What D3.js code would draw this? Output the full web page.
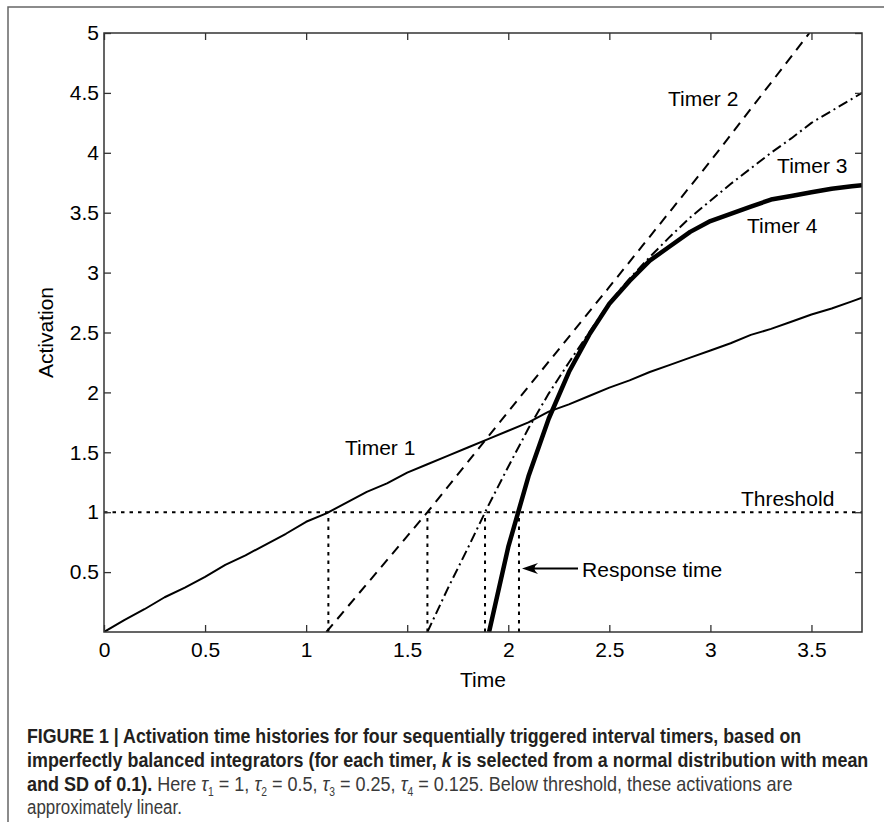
<!DOCTYPE html>
<html><head><meta charset="utf-8">
<script src="https://cdn.jsdelivr.net/npm/d3@7"></script>
<style>body{margin:0;background:#fff}svg{display:block}</style>
</head><body>
<svg id="c" width="884" height="831"></svg>
<script>
// ---- data ----
const timer1T = [0,0.1,0.2,0.3,0.4,0.5,0.6,0.7,0.8,0.9,1.0,1.1,1.2,1.3,1.4,1.5,1.6,1.7,1.8,1.9,2.0,2.1,2.2,2.3,2.4,2.5,2.6,2.7,2.8,2.9,3.0,3.1,3.2,3.3,3.4,3.5,3.6,3.7,3.75];
const timer1V = [0,0.10,0.19,0.29,0.37,0.46,0.56,0.64,0.73,0.82,0.92,0.99,1.08,1.17,1.24,1.33,1.40,1.47,1.54,1.61,1.68,1.75,1.84,1.90,1.97,2.04,2.10,2.17,2.23,2.29,2.35,2.41,2.48,2.53,2.59,2.65,2.70,2.76,2.79];
const timer2T = [1.10,1.60,2.0,2.5,3.0,3.49];
const timer2V = [0,1.0,1.84,2.88,3.93,5.0];
const timer3T = [1.6,1.7,1.8,1.9,2.0,2.1,2.2,2.3,2.4,2.5,2.6,2.7,2.8,2.9,3.0,3.1,3.2,3.3,3.4,3.5,3.6,3.7,3.75];
const timer3V = [0,0.36,0.70,1.05,1.38,1.70,1.99,2.25,2.50,2.75,2.95,3.13,3.30,3.46,3.60,3.74,3.87,4.00,4.12,4.25,4.35,4.45,4.50];
const timer4T = [1.905,2.0,2.1,2.2,2.3,2.4,2.5,2.6,2.7,2.8,2.9,3.0,3.1,3.2,3.3,3.4,3.5,3.6,3.7,3.75];
const timer4V = [0,0.71,1.30,1.78,2.17,2.48,2.74,2.93,3.10,3.22,3.34,3.43,3.49,3.55,3.61,3.64,3.67,3.70,3.72,3.73];
const threshold = 1;
const responseTimes = [1.11,1.60,1.885,2.053];
const xTicks = [0,0.5,1,1.5,2,2.5,3,3.5];
const yTicks = [0.5,1,1.5,2,2.5,3,3.5,4,4.5,5];
const labels = [
  {text:"Timer 1", t:1.192, v:1.477},
  {text:"Timer 2", t:2.790, v:4.391},
  {text:"Timer 3", t:3.330, v:3.831},
  {text:"Timer 4", t:3.181, v:3.331},
  {text:"Threshold", t:3.151, v:1.052},
  {text:"Response time", t:2.365, v:0.459}
];
const arrow = {tipT:2.068, tailT:2.345, v:0.53};

// ---- layout ----
const FONT = "'Liberation Sans', Arial, Helvetica, sans-serif";
const svg = d3.select("#c");
const x = d3.scaleLinear([0,3.75],[104,862]);
const y = d3.scaleLinear([0,5],[632,33]);

// outer frame
svg.append("path").attr("d","M8,822 L8,7 L884,7").attr("fill","none").attr("stroke","#666").attr("stroke-width",1.5);

svg.append("defs").append("clipPath").attr("id","clip").append("rect")
  .attr("x",x(0)).attr("y",y(5)).attr("width",x(3.75)-x(0)).attr("height",y(0)-y(5));

const plot = svg.append("g").attr("clip-path","url(#clip)");
const line = d3.line().x(d=>x(d[0])).y(d=>y(d[1]));
const zip = (a,b)=>a.map((t,i)=>[t,b[i]]);

// threshold & response time verticals
plot.append("path").attr("d",line([[0,threshold],[3.75,threshold]]))
  .attr("fill","none").attr("stroke","#000").attr("stroke-width",2).attr("stroke-dasharray","3.5,5");
responseTimes.forEach(rt=>{
  plot.append("path").attr("d",line([[rt,0],[rt,threshold]]))
    .attr("fill","none").attr("stroke","#000").attr("stroke-width",2).attr("stroke-dasharray","3.5,5");
});

const styles = [
  {T:timer1T,V:timer1V,w:2,dash:null},
  {T:timer2T,V:timer2V,w:2,dash:"10,7"},
  {T:timer3T,V:timer3V,w:2,dash:"10,4,2,4"},
  {T:timer4T,V:timer4V,w:4.5,dash:null}
];
styles.forEach(s=>{
  const p = plot.append("path").attr("d",line(zip(s.T,s.V)))
    .attr("fill","none").attr("stroke","#000").attr("stroke-width",s.w)
    .attr("stroke-linejoin","round");
  if(s.dash) p.attr("stroke-dasharray",s.dash);
});

// axes
const axG = svg.append("g").attr("font-family",FONT);
function styleAxis(g,showText){
  g.select(".domain").remove();
  g.selectAll(".tick line").attr("stroke","#333").attr("stroke-width",1.3);
  g.selectAll("text").attr("font-family",FONT).attr("font-size",21).attr("fill","#000");
  if(!showText) g.selectAll("text").remove();
}
axG.append("g").attr("transform",`translate(0,${y(0)})`)
  .call(d3.axisBottom(x).tickValues(xTicks).tickFormat(d3.format("")).tickSize(-7).tickPadding(10))
  .call(g=>styleAxis(g,true));
axG.append("g").attr("transform",`translate(0,${y(5)})`)
  .call(d3.axisTop(x).tickValues(xTicks).tickSize(-7))
  .call(g=>styleAxis(g,false));
axG.append("g").attr("transform",`translate(${x(0)},0)`)
  .call(d3.axisLeft(y).tickValues(yTicks).tickFormat(d3.format("")).tickSize(-7).tickPadding(5))
  .call(g=>styleAxis(g,true));
axG.append("g").attr("transform",`translate(${x(3.75)},0)`)
  .call(d3.axisRight(y).tickValues(yTicks).tickSize(-7))
  .call(g=>styleAxis(g,false));
svg.selectAll(".tick text").attr("font-size",21);
// box
svg.append("rect").attr("x",x(0)).attr("y",y(5)).attr("width",x(3.75)-x(0)).attr("height",y(0)-y(5))
  .attr("fill","none").attr("stroke","#333").attr("stroke-width",1.5);

// axis titles
svg.append("text").attr("x",(x(0)+x(3.75))/2).attr("y",687).attr("text-anchor","middle")
  .attr("font-family",FONT).attr("font-size",21).text("Time");
svg.append("text").attr("transform",`translate(53,${(y(0)+y(5))/2}) rotate(-90)`).attr("text-anchor","middle")
  .attr("font-family",FONT).attr("font-size",21).text("Activation");

// annotations
labels.forEach(l=>{
  svg.append("text").attr("x",x(l.t)).attr("y",y(l.v)).attr("font-family",FONT).attr("font-size",21)
    .attr("fill","#000").text(l.text);
});
const ax0 = x(arrow.tipT), ax1 = x(arrow.tailT), ay = y(arrow.v);
svg.append("line").attr("x1",ax0+6).attr("x2",ax1).attr("y1",ay).attr("y2",ay).attr("stroke","#000").attr("stroke-width",2);
svg.append("path").attr("d",`M${ax0},${ay} L${ax0+16},${ay-5.5} Q${ax0+9},${ay} ${ax0+16},${ay+5.5} Z`).attr("fill","#000");

// caption
const capX = 27;
const capLines = [
  {base:743, w:775, parts:[{t:"FIGURE 1 | Activation time histories for four sequentially triggered interval timers, based on", b:1}]},
  {base:767, w:842, parts:[{t:"imperfectly balanced integrators (for each timer, ",b:1},{t:"k",b:1,i:1},{t:" is selected from a normal distribution with mean",b:1}]},
  {base:791, w:766, parts:[{t:"and SD of 0.1).",b:1},{t:" Here "},{t:"τ",i:1},{t:"1",sub:1},{t:" = 1, "},{t:"τ",i:1},{t:"2",sub:1},{t:" = 0.5, "},{t:"τ",i:1},{t:"3",sub:1},{t:" = 0.25, "},{t:"τ",i:1},{t:"4",sub:1},{t:" = 0.125. Below threshold, these activations are"}]},
  {base:814, w:155, parts:[{t:"approximately linear."}]}
];
capLines.forEach(L=>{
  const tx = svg.append("text").attr("font-family",FONT).attr("font-size",21)
    .attr("transform",`translate(${capX},${L.base})`);
  L.parts.forEach(p=>{
    const ts = tx.append("tspan").text(p.t)
      .attr("fill", p.b ? "#231f20" : "#3a3a3a")
      .attr("font-weight", p.b ? "bold" : "normal");
    if(p.i) ts.attr("font-style","italic");
    if(p.sub){ ts.attr("font-size",12).attr("dy",5); }
    else if(L.parts.some(q=>q.sub)) ts.attr("dy",0);
  });
  // restore baseline after subscripts
  tx.selectAll("tspan").each(function(d,i,n){
    const el = d3.select(this);
    if(el.attr("font-size")==="12"){
      const next = n[i+1];
      if(next) d3.select(next).attr("dy",-5);
    }
  });
  const wd = tx.node().getComputedTextLength();
  tx.attr("transform",`translate(${capX},${L.base}) scale(${L.w/wd},1)`);
});
</script>
</body></html>
